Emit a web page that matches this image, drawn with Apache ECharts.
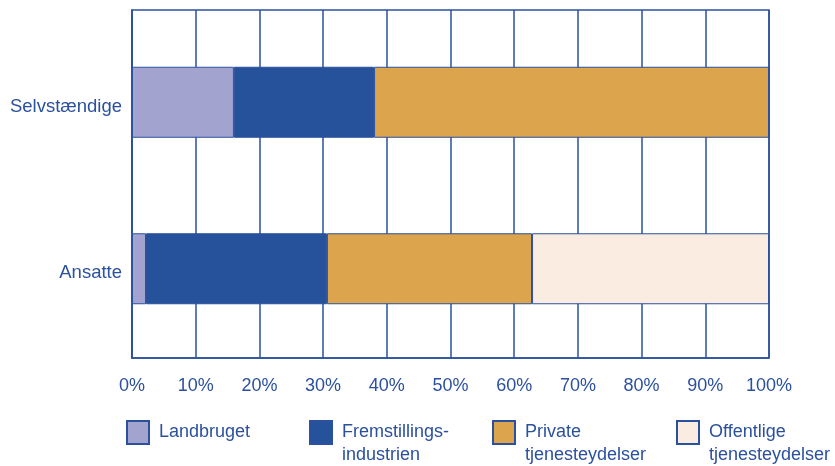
<!DOCTYPE html>
<html>
<head>
    <meta charset="utf-8">
    <title>Selvstændige og ansatte</title>
    <script src="https://cdn.jsdelivr.net/npm/echarts@6/dist/echarts.min.js"></script>
    <style>
        html, body { margin: 0; padding: 0; background: #fff; }
        #chart { width: 835px; height: 466px; }
    </style>
</head>
<body>
<div id="chart"></div>
<script type="text/javascript">
    // data (percent of each group)
    var categories = ['Ansatte', 'Selvstændige'];
    var seriesNames = ['Landbruget', 'Fremstillings-\nindustrien', 'Private\ntjenesteydelser', 'Offentlige\ntjenesteydelser'];
    var landbruget = [2.2, 16];
    var fremstilling = [28.4, 22];
    var privat = [32.2, 62];
    var offentlig = [37.2, 0];
    var tickLabels = ['0%', '10%', '20%', '30%', '40%', '50%', '60%', '70%', '80%', '90%', '100%'];

    var blue = '#2b519e';
    var font = 'Liberation Sans, Arial, sans-serif';
    var colors = ['#a2a4cf', '#26529c', '#dca44d', '#faece0'];
    var values = [landbruget, fremstilling, privat, offentlig];

    var myChart = echarts.init(document.getElementById('chart'));

    // bars live in the second grid (a bit tighter than the frame)
    var series = seriesNames.map(function (name, i) {
        return {
            name: name,
            type: 'bar',
            stack: 'total',
            xAxisIndex: 1,
            yAxisIndex: 1,
            barWidth: 71,
            data: values[i],
            itemStyle: { color: colors[i], borderColor: blue, borderWidth: 1 }
        };
    });

    // one legend per item so each can sit where the picture has it
    var legendLeft = [126, 309, 492, 676];
    var legends = seriesNames.map(function (name, i) {
        var twoLines = name.indexOf('\n') >= 0;
        return {
            data: [name],
            left: legendLeft[i],
            top: twoLines ? 397 : 420,
            padding: 0,
            itemWidth: 22,
            itemHeight: 23,
            icon: 'rect',
            selectedMode: false,
            formatter: function (n) { return n.indexOf('\n') >= 0 ? '\n' + n : n; },
            textStyle: {
                color: blue,
                fontFamily: font,
                fontSize: 18,
                lineHeight: 23,
                padding: [2, 0, 0, 5]
            }
        };
    });

    myChart.setOption({
        animation: false,
        legend: legends,
        grid: [
            { left: 132, right: 66, top: 10, bottom: 108, show: true, borderColor: blue, borderWidth: 1.5 },
            { left: 132, right: 66, top: 19, bottom: 114 }
        ],
        xAxis: [{
            type: 'value',
            gridIndex: 0,
            min: 0, max: 100, interval: 10,
            axisLine: { show: true, lineStyle: { color: blue, width: 1.5 } },
            axisTick: { show: false },
            splitLine: { lineStyle: { color: blue, width: 1.5 } },
            axisLabel: {
                margin: 19,
                color: blue,
                fontFamily: font,
                fontSize: 18,
                formatter: function (v) { return tickLabels[Math.round(v / 10)]; }
            }
        }, {
            type: 'value',
            gridIndex: 1,
            min: 0, max: 100,
            show: false
        }],
        yAxis: [{
            type: 'category',
            gridIndex: 0,
            data: categories,
            axisLine: { show: true, lineStyle: { color: blue, width: 1.5 } },
            axisTick: { show: false },
            axisLabel: { show: false }
        }, {
            type: 'category',
            gridIndex: 1,
            data: categories,
            axisLine: { show: false },
            axisTick: { show: false },
            splitLine: { show: false },
            axisLabel: {
                margin: 10,
                formatter: function (v) { return '{c|' + v + '}'; },
                rich: {
                    c: {
                        padding: [9, 0, 0, 0],
                        color: blue,
                        fontFamily: font,
                        fontSize: 18.5
                    }
                }
            }
        }],
        series: series
    });
</script>
</body>
</html>
